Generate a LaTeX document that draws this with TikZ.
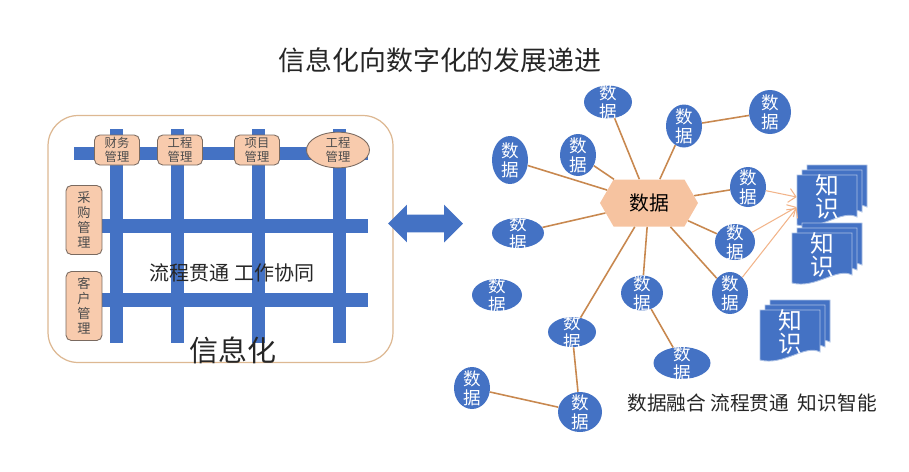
\documentclass[tikz,border=0pt]{standalone}
\usepackage{fontspec}
\newfontfamily\cjk{Noto Sans CJK SC}
\usetikzlibrary{shapes.geometric,shapes.symbols,shapes.arrows,arrows.meta}
\definecolor{barblue}{HTML}{4472C4}
\definecolor{peach}{HTML}{F8CBAD}
\definecolor{hexpeach}{HTML}{F6C3A0}
\definecolor{tanline}{HTML}{DDB892}
\definecolor{linkbrown}{HTML}{C8884F}
\definecolor{arrowpeach}{HTML}{F2B48A}
\definecolor{modedge}{HTML}{7A6A60}

% stacked knowledge pages: name, x and y of the front page's top left corner
\newcommand{\zhishidoc}[3]{%
  \foreach \d in {10,5,0}
    \filldraw[fill=barblue, draw=white!55!barblue, line width=0.5pt]
      ({#2+\d},{#3-\d}) -- ++(60,0) -- ++(0,42)
      .. controls +(-15,-8) and +(24,6) .. ++(-60,8) -- cycle;
  \node[zhishi] (#1) at ({#2+30},{#3+22}) {知\\识};
}

\begin{document}
\begin{tikzpicture}[
    x=0.02cm, y=-0.02cm, font=\cjk,
    bar/.style={fill=barblue},
    module/.style={rectangle, rounded corners=3pt, fill=peach, draw=modedge, line width=0.5pt, inner sep=0pt, align=center, text=black!70, font=\cjk\fontsize{7}{8}\selectfont},
    shuju/.style={ellipse, fill=barblue, inner sep=0pt, label={[text=white, align=center, inner sep=0pt, font=\cjk\fontsize{10}{11}\selectfont]center:数\\据}},
    link/.style={linkbrown, line width=0.9pt},
    toknow/.style={arrowpeach, line width=0.6pt, -{Straight Barb[length=4pt]}},
    zhishi/.style={text=white, align=center, inner sep=0pt, minimum width=1.2cm, font=\cjk\fontsize{13.5}{13}\selectfont}
]
    \useasboundingbox (0,0) rectangle (909,471);

    \node[font=\cjk\fontsize{15.3}{18}\selectfont, text=black!85] (title) at (440,60) {信息化向数字化的发展递进};

    % left: information system grid
    \node[draw=tanline, line width=0.7pt, fill=white, rounded corners=0.6cm, minimum width=6.9cm, minimum height=4.94cm] (xinxibox) at (220.5,239) {};
    \foreach \x in {116,177,258,339}
        \fill[bar] ({\x-6.5},129) rectangle ({\x+6.5},343);
    \fill[bar] (74,147) rectangle (368,160);
    \foreach \y in {219,293}
        \fill[bar] (102,\y) rectangle (368,{\y+14});

    \node[module, minimum width=0.9cm, minimum height=0.6cm] (caiwu) at (117,150) {财务\\管理};
    \node[module, minimum width=0.9cm, minimum height=0.6cm] (gongcheng) at (180,150) {工程\\管理};
    \node[module, minimum width=0.9cm, minimum height=0.6cm] (xiangmu) at (257,150) {项目\\管理};
    \node[module, ellipse, minimum width=1.26cm, minimum height=0.6cm] (gongcheng2) at (338,150) {工程\\管理};
    \node[module, minimum width=0.72cm, minimum height=1.38cm, font=\cjk\fontsize{7.5}{8.5}\selectfont] (caigou) at (84,220) {采\\购\\管\\理};
    \node[module, minimum width=0.72cm, minimum height=1.38cm, font=\cjk\fontsize{7.5}{8.5}\selectfont] (kehu) at (84,306) {客\\户\\管\\理};

    \node[font=\cjk\fontsize{11.4}{13}\selectfont, text=black!85] (liucheng) at (232,273) {流程贯通 工作协同};
    \node[font=\cjk\fontsize{16.5}{18}\selectfont, text=black!85] (xinxihua) at (233,350) {信息化};

    \node[double arrow, fill=barblue, minimum height=1.5cm, inner xsep=0pt, inner ysep=0.17cm, double arrow head extend=0.2cm] (swap) at (425.5,223.5) {};

    % right: data network
    \node[signal, signal to=east and west, signal pointer angle=120, fill=hexpeach, minimum width=1.96cm, minimum height=0.94cm, inner sep=0pt, font=\cjk\fontsize{11.3}{13}\selectfont] (hub) at (649,203) {数据};

    \node[shuju, minimum width=0.96cm, minimum height=0.66cm] (d1) at (608,102) {};
    \node[shuju, minimum width=0.72cm, minimum height=0.86cm] (d2) at (684,126) {};
    \node[shuju, minimum width=0.84cm, minimum height=0.88cm] (d3) at (770,112) {};
    \node[shuju, minimum width=0.72cm, minimum height=0.96cm] (d4) at (510,160) {};
    \node[shuju, minimum width=0.72cm, minimum height=0.84cm] (d5) at (578,155) {};
    \node[shuju, minimum width=0.72cm, minimum height=0.80cm] (d6) at (748,187) {};
    \node[shuju, minimum width=1.04cm, minimum height=0.60cm] (d7) at (518,233) {};
    \node[shuju, minimum width=0.80cm, minimum height=0.72cm] (d8) at (735,242) {};
    \node[shuju, minimum width=1.00cm, minimum height=0.64cm] (d9) at (497,295) {};
    \node[shuju, minimum width=0.84cm, minimum height=0.70cm] (d10) at (642,293) {};
    \node[shuju, minimum width=0.72cm, minimum height=0.84cm] (d11) at (730,293) {};
    \node[shuju, minimum width=0.96cm, minimum height=0.60cm] (d12) at (572,332) {};
    \node[shuju, minimum width=1.14cm, minimum height=0.64cm] (d13) at (682,363) {};
    \node[shuju, minimum width=0.72cm, minimum height=0.84cm] (d14) at (472,388) {};
    \node[shuju, minimum width=0.88cm, minimum height=0.80cm] (d15) at (580,412) {};

    \foreach \d in {d1,d2,d4,d5,d6,d7,d8,d10,d11,d12}
        \draw[link] (hub) -- (\d);
    \draw[link] (d2) -- (d3);
    \draw[link] (d10) -- (d13);
    \draw[link] (d12) -- (d15);
    \draw[link] (d14) -- (d15);

    \zhishidoc{k1}{797}{175}
    \zhishidoc{k2}{792}{233}
    \zhishidoc{k3}{760}{310}

    \draw[toknow] (d6) -- (k1.west);
    \draw[toknow] (d8) -- ([yshift=-0.2cm]k1.west);
    \draw[toknow] (d11) -- ([yshift=-0.22cm]k1.west);

    \node[font=\cjk\fontsize{11.2}{13}\selectfont, text=black!85] (slogan) at (752,403) {数据融合 流程贯通\ \ 知识智能};
\end{tikzpicture}
\end{document}
